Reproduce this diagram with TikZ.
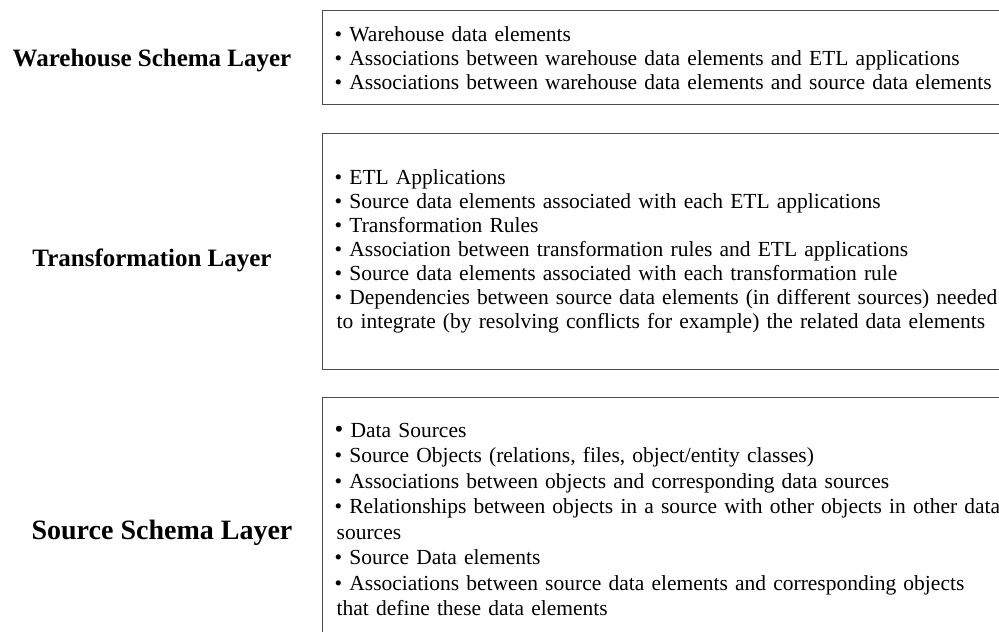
\documentclass[tikz,border=0pt]{standalone}
\usepackage{fontspec}
\setmainfont{Liberation Serif}
\tikzset{
    layer/.style={
           font=\bfseries\fontsize{12.5}{15}\selectfont,
           },
}
\tikzset{
    itembox/.style={
           rectangle, anchor=north west,
           draw=black!70, line width=0.7pt,
           inner xsep=6pt, inner ysep=0pt,
           text width=400pt, align=left,
           font=\fontsize{10.75}{12}\selectfont,
           },
}

\begin{document}
\begin{tikzpicture}[x=0.5pt,y=-0.5pt]
\useasboundingbox (0,0) rectangle (999,631);
\clip (0,0) rectangle (999,631);
\node[layer] (wlabel) at (152,61) {Warehouse Schema Layer};
\node[layer] (tlabel) at (152,260) {Transformation Layer};
\node[layer, font=\bfseries\fontsize{14}{16}\selectfont] (slabel) at (162,533) {Source Schema Layer};
\node[itembox, minimum height=47pt] (wbox) at (322,10) {%
• Warehouse data elements\\
• Associations between warehouse data elements and ETL applications\\
• Associations between warehouse data elements and source data elements};
\node[itembox, minimum height=118pt] (tbox) at (322,133) {%
• ETL Applications\\
• Source data elements associated with each ETL applications\\
• Transformation Rules\\
• Association between transformation rules and ETL applications\\
• Source data elements associated with each transformation rule\\
• Dependencies between source data elements (in different sources) needed\\
\hspace*{1pt}to integrate (by resolving conflicts for example) the related data elements};
\node[itembox, minimum height=122pt, font=\fontsize{10.75}{12.75}\selectfont] (sbox) at (322,397) {%
{\fontsize{12.5}{12.75}\selectfont •} Data Sources\\
• Source Objects (relations, files, object/entity classes)\\
• Associations between objects and corresponding data sources\\
• Relationships between objects in a source with other objects in other data\\
\hspace*{1pt}sources\\
• Source Data elements\\
• Associations between source data elements and corresponding objects\\
\hspace*{1pt}that define these data elements};
\end{tikzpicture}
\end{document}
